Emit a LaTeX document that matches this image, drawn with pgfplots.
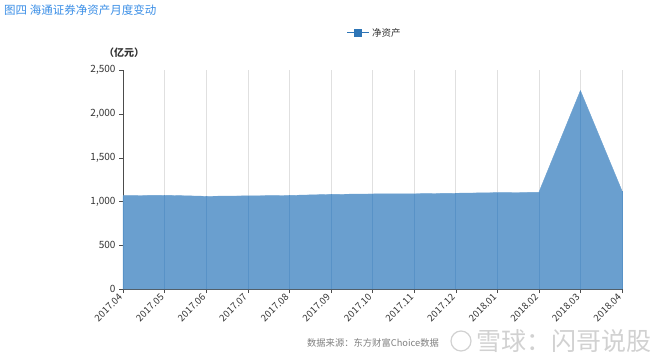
\documentclass[border=0pt]{standalone}
\usepackage{pgfplots}
\pgfplotsset{compat=1.18}
\usepackage{fontspec}
\setmainfont{Noto Sans CJK SC}
\definecolor{fillc}{HTML}{6A9FCF}
\definecolor{linec}{HTML}{2E75B6}
\definecolor{titlec}{HTML}{3A8EE6}
\definecolor{txt}{HTML}{333333}
\pgfplotstableread{
x y
0 1065
1 1070
2 1058
3 1063
4 1068
5 1080
6 1085
7 1087
8 1093
9 1100
10 1103
11 2265
12 1120
}\datatable
\begin{document}
\begin{tikzpicture}
\path[use as bounding box] (0pt,0pt) rectangle (660pt,356pt);
\node[anchor=west,text=titlec,font=\fontsize{11.5}{13}\selectfont,inner sep=0pt] at (4pt,346pt) {图四 海通证券净资产月度变动};
\node[anchor=center,text=txt,font=\fontsize{10}{11}\selectfont\bfseries,inner sep=0pt] at (124pt,303pt) {（亿元）};
% legend
\draw[linec,line width=1pt] (347pt,323pt) -- (369pt,323pt);
\fill[linec] (354pt,319pt) rectangle (362pt,327pt);
\node[anchor=west,text=txt,font=\fontsize{9.5}{10}\selectfont,inner sep=0pt] at (372pt,323pt) {净资产};
\node[anchor=center,text=gray,font=\fontsize{9.3}{10}\selectfont,inner sep=0pt] at (373pt,13pt) {数据来源：东方财富Choice数据};
\draw[black!18,line width=1.2pt] (461pt,15pt) circle (10pt);
\node[anchor=west,text=black!18,font=\fontsize{25}{26}\selectfont,inner sep=0pt] at (476pt,15pt) {雪球：闪哥说股};
\begin{axis}[
  at={(123pt,67pt)}, anchor=south west,
  scale only axis, width=499pt, height=219pt,
  xmin=0, xmax=12, ymin=0, ymax=2500,
  xtick={0,...,12},
  xticklabels={2017.04,2017.05,2017.06,2017.07,2017.08,2017.09,2017.10,2017.11,2017.12,2018.01,2018.02,2018.03,2018.04},
  x tick label style={rotate=45,anchor=east,font=\fontsize{9.5}{10}\selectfont,text=txt},
  ytick={0,500,1000,1500,2000,2500},
  yticklabels={0,500,{1,000},{1,500},{2,000},{2,500}},
  y tick label style={font=\fontsize{10}{11}\selectfont,text=txt},
  axis x line*=bottom, axis y line*=left,
  axis line style={black!70},
  tick style={black!70},
  tick align=outside,
  major tick length=4pt,
  xmajorgrids, grid style={black!12},
  ymajorgrids=false,
  clip=false,
]
\addplot[fill=fillc,draw=fillc] table[x=x,y=y] {\datatable} \closedcycle;
\addplot[ycomb,draw=linec!30!fillc,line width=0.4pt,forget plot] table[x=x,y=y] {\datatable};
\end{axis}
\end{tikzpicture}
\end{document}
